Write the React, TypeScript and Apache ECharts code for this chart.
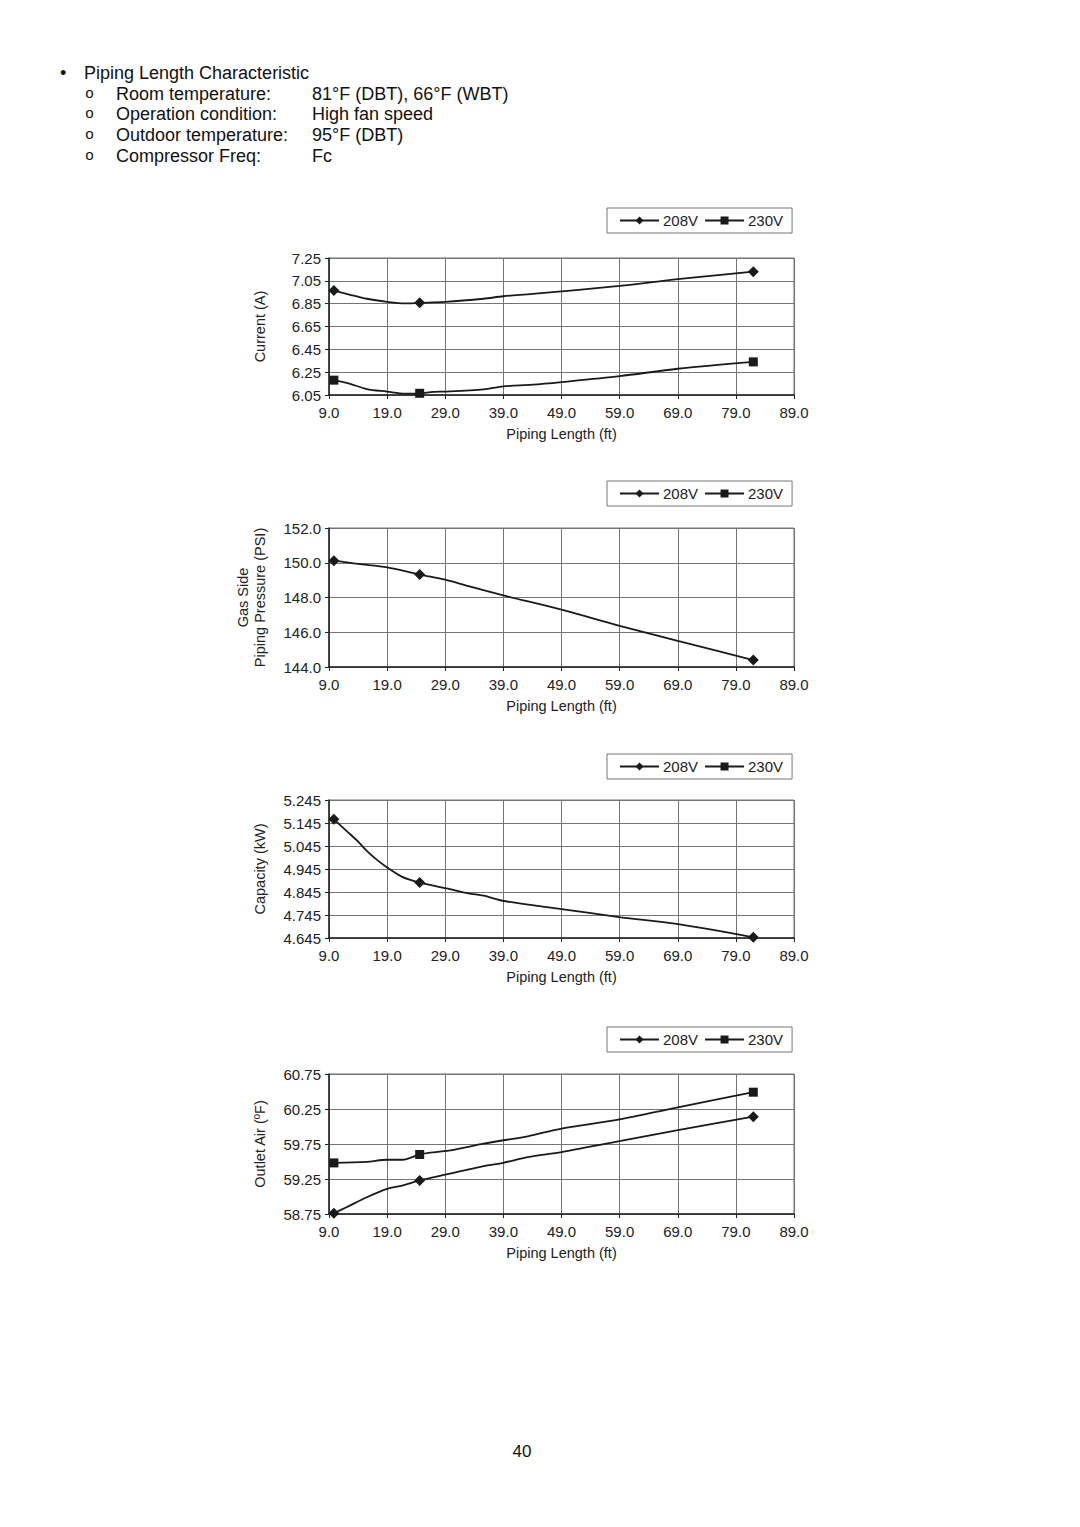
import React, { useEffect, useRef } from "react";
import * as echarts from "echarts";

// ---------- data ----------
const measuredLengths = [9.84, 24.6, 82];

const current208Len = [9.84, 12.5, 15.5, 19, 22, 24.6, 29, 35.6, 39, 44, 59, 69, 82];
const current208 = [6.965, 6.93, 6.893, 6.866, 6.852, 6.857, 6.865, 6.893, 6.915, 6.935, 7.005, 7.065, 7.13];
const current230Len = [9.84, 12.5, 15.5, 19, 22, 24.6, 27, 29, 35.6, 39, 44, 49, 59, 69, 82];
const current230 = [6.18, 6.15, 6.102, 6.08, 6.062, 6.065, 6.078, 6.08, 6.1, 6.125, 6.14, 6.163, 6.215, 6.28, 6.34];

const pressure208Len = [9.84, 14, 19, 24.6, 29, 33, 39, 49, 59, 69, 82];
const pressure208 = [150.12, 149.93, 149.74, 149.32, 149.03, 148.65, 148.12, 147.3, 146.37, 145.5, 144.4];

const capacity208Len = [9.84, 12, 13.9, 15.5, 17.1, 19, 21.6, 24.6, 29.2, 33, 35.6, 38.8, 49, 59.2, 68.8, 82];
const capacity208 = [5.161, 5.111, 5.067, 5.024, 4.988, 4.952, 4.911, 4.886, 4.861, 4.839, 4.829, 4.807, 4.771, 4.735, 4.706, 4.648];

const outlet208Len = [9.84, 12, 15.5, 19, 21.6, 24.6, 29.2, 35.6, 38.8, 43.2, 49, 59.2, 68.8, 82];
const outlet208 = [58.76, 58.846, 58.99, 59.11, 59.157, 59.23, 59.315, 59.434, 59.477, 59.563, 59.635, 59.793, 59.946, 60.14];
const outlet230Len = [9.84, 15.5, 19, 21.6, 24.6, 27.3, 29.9, 35.6, 38.8, 43.2, 49, 59.2, 68.8, 82];
const outlet230 = [59.48, 59.496, 59.525, 59.525, 59.6, 59.635, 59.66, 59.755, 59.8, 59.86, 59.97, 60.104, 60.27, 60.49];

const xAxisRange = { min: 9, max: 89, interval: 10 };
const yRanges = [
  { min: 6.05, max: 7.25, interval: 0.2, digits: 2 },
  { min: 144, max: 152, interval: 2, digits: 1 },
  { min: 4.645, max: 5.245, interval: 0.1, digits: 3 },
  { min: 58.75, max: 60.75, interval: 0.5, digits: 2 },
];
const yNames = ["Current (A)", "Gas Side\nPiping Pressure (PSI)", "Capacity (kW)", "Outlet Air (ºF)"];
const xName = "Piping Length (ft)";
const seriesNames = ["208V", "230V"];

const headerTitle = "Piping Length Characteristic";
const headerRows = [
  ["Room temperature:", "81°F (DBT), 66°F (WBT)"],
  ["Operation condition:", "High fan speed"],
  ["Outdoor temperature:", "95°F (DBT)"],
  ["Compressor Freq:", "Fc"],
];
const pageNumber = "40";

// ---------- layout ----------
const FONT = "'Liberation Sans', Arial, sans-serif";
const grids = [
  { top: 258, height: 137 },
  { top: 528, height: 139 },
  { top: 800, height: 138 },
  { top: 1074, height: 140 },
];
const legendTops = [208, 481, 754, 1027];

function buildPoints(xs: number[], ys: number[]) {
  return xs.map((x, i) => {
    const marked = measuredLengths.includes(x);
    return marked ? { value: [x, ys[i]] } : { value: [x, ys[i]], symbol: "none" };
  });
}

export default function App() {
  const ref = useRef<HTMLDivElement>(null);

  useEffect(() => {
    if (!ref.current) return;
    const chart = echarts.init(ref.current, undefined, { renderer: "svg" });

    const gridColor = "#747474";

    const gridOpts = grids.map((g) => ({
      left: 329,
      width: 465,
      top: g.top,
      height: g.height,
      show: true,
      borderColor: gridColor,
      borderWidth: 1,
      backgroundColor: "transparent",
    }));

    const xAxes = grids.map((_, i) => ({
      type: "value",
      gridIndex: i,
      min: xAxisRange.min,
      max: xAxisRange.max,
      interval: xAxisRange.interval,
      name: xName,
      nameLocation: "middle",
      nameGap: 31,
      nameTextStyle: { fontFamily: FONT, fontSize: 14.5, color: "#222" },
      axisLine: { show: true, onZero: false, lineStyle: { color: "#222", width: 1.5 } },
      axisTick: { show: true, inside: false, length: 4, lineStyle: { color: "#222" } },
      axisLabel: {
        fontFamily: FONT,
        fontSize: 15,
        color: "#222",
        margin: 10,
        formatter: (v: number) => v.toFixed(1),
      },
      splitLine: { show: true, lineStyle: { color: gridColor, width: 1 } },
    }));

    const yAxes = yRanges.map((r, i) => ({
      type: "value",
      gridIndex: i,
      min: r.min,
      max: r.max,
      interval: r.interval,
      name: yNames[i],
      nameLocation: "middle",
      nameRotate: 90,
      nameGap: 61,
      nameTextStyle: { fontFamily: FONT, fontSize: 14.5, color: "#222", lineHeight: 17 },
      axisLine: { show: true, onZero: false, lineStyle: { color: "#222", width: 1.5 } },
      axisTick: { show: true, inside: false, length: 4, lineStyle: { color: "#222" } },
      axisLabel: {
        fontFamily: FONT,
        fontSize: 15,
        color: "#222",
        margin: 8,
        formatter: (v: number) => v.toFixed(r.digits),
      },
      splitLine: { show: true, lineStyle: { color: gridColor, width: 1 } },
    }));

    const lineStyle = { color: "#1a1a1a", width: 1.8 };
    const mk = (name: string, idx: number, xs: number[], ys: number[]) => ({
      type: "line",
      name,
      xAxisIndex: idx,
      yAxisIndex: idx,
      data: buildPoints(xs, ys),
      smooth: 0.3,
      symbol: name === "208V" ? "diamond" : "rect",
      symbolSize: name === "208V" ? 11 : 9,
      showSymbol: true,
      lineStyle,
      itemStyle: { color: "#1a1a1a" },
      z: 3,
    });

    const series = [
      mk("208V", 0, current208Len, current208),
      mk("230V", 0, current230Len, current230),
      mk("208V", 1, pressure208Len, pressure208),
      mk("208V", 2, capacity208Len, capacity208),
      mk("208V", 3, outlet208Len, outlet208),
      mk("230V", 3, outlet230Len, outlet230),
    ];

    const legends = legendTops.map((t) => ({
      data: seriesNames,
      left: 607,
      top: t,
      orient: "horizontal",
      itemWidth: 39,
      itemHeight: 10,
      itemGap: 6,
      padding: [5, 9, 5, 12],
      borderColor: "#777",
      borderWidth: 1,
      selectedMode: false,
      textStyle: { fontFamily: FONT, fontSize: 15, color: "#222", padding: [0, 0, 0, -1] },
    }));

    const headerFont = `18px ${FONT}`;
    const graphic: any[] = [
      { type: "text", x: 60, y: 73, style: { text: "•", font: headerFont, fill: "#111", verticalAlign: "middle" } },
      { type: "text", x: 84, y: 73, style: { text: headerTitle, font: headerFont, fill: "#111", verticalAlign: "middle" } },
    ];
    const rowYs = [94, 114, 135, 156];
    headerRows.forEach((row, i) => {
      graphic.push({ type: "text", x: 85, y: rowYs[i], style: { text: "o", font: `15px 'Liberation Mono', monospace`, fill: "#111", verticalAlign: "middle" } });
      graphic.push({ type: "text", x: 116, y: rowYs[i], style: { text: row[0], font: headerFont, fill: "#111", verticalAlign: "middle" } });
      graphic.push({ type: "text", x: 312, y: rowYs[i], style: { text: row[1], font: headerFont, fill: "#111", verticalAlign: "middle" } });
    });
    graphic.push({ type: "text", x: 522, y: 1451, style: { text: pageNumber, font: `17px ${FONT}`, fill: "#111", align: "center", verticalAlign: "middle" } });

    chart.setOption({
      animation: false,
      backgroundColor: "#ffffff",
      grid: gridOpts,
      xAxis: xAxes,
      yAxis: yAxes,
      legend: legends,
      series,
      graphic,
    });

    return () => chart.dispose();
  }, []);

  return (
    <div
      ref={ref}
      style={{ position: "absolute", left: 0, top: 0, width: 1080, height: 1527, background: "#fff" }}
    />
  );
}
